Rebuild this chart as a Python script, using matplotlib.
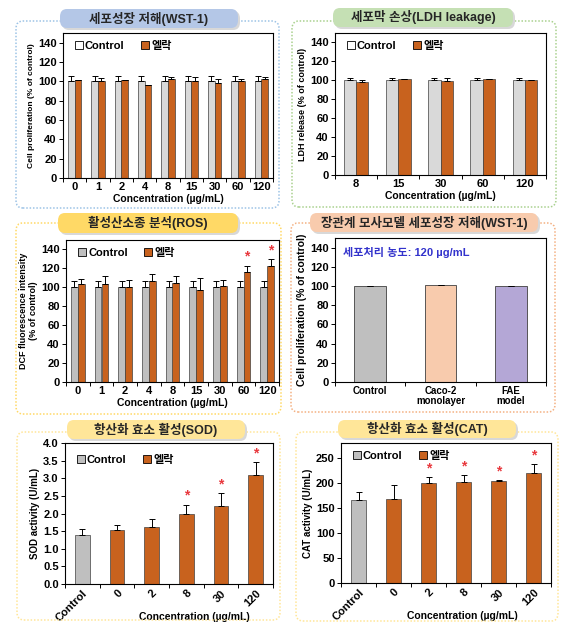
import numpy as np
import matplotlib
matplotlib.use("Agg")
import matplotlib.pyplot as plt
from matplotlib.patches import FancyBboxPatch, Patch

plt.rcParams['font.family'] = ['Liberation Sans', 'Noto Sans CJK KR', 'DejaVu Sans']
plt.rcParams['font.weight'] = 'bold'

# ---- data ----
wst_conc = ["0", "1", "2", "4", "8", "15", "30", "60", "120"]
wst_ctrl = [100, 100, 100, 100, 100, 100, 100, 100, 100]
wst_ctrl_err = [5, 5, 5, 5, 5, 5, 5, 5, 5]
wst_elrak = [101, 100, 101, 96, 102, 100, 98, 100, 102]
wst_elrak_err = [0.5, 3, 0.5, 0.5, 2, 4, 4, 2, 2]

ldh_conc = ["8", "15", "30", "60", "120"]
ldh_ctrl = [100, 100, 100, 100, 100]
ldh_ctrl_err = [2, 2, 2, 2, 2]
ldh_elrak = [98, 101, 99, 101, 100]
ldh_elrak_err = [2, 0.5, 3, 0.5, 0.5]

ros_conc = ["0", "1", "2", "4", "8", "15", "30", "60", "120"]
ros_ctrl = [100, 100, 100, 100, 100, 100, 100, 100, 100]
ros_ctrl_err = [7, 7, 7, 7, 7, 7, 7, 7, 7]
ros_elrak = [104, 103, 100, 107, 105, 97, 101, 116, 123]
ros_elrak_err = [5, 9, 8, 7, 7, 13, 7, 7, 7]
ros_sig = [False, False, False, False, False, False, False, True, True]

gut_labels = ["Control", "Caco-2\nmonolayer", "FAE\nmodel"]
gut_vals = [100, 101, 100]
gut_err = [0.5, 0, 0.5]

sod_labels = ["Control", "0", "2", "8", "30", "120"]
sod_vals = [1.38, 1.52, 1.62, 2.0, 2.22, 3.1]
sod_err = [0.18, 0.15, 0.22, 0.25, 0.35, 0.35]
sod_sig = [False, False, False, True, True, True]

cat_labels = ["Control", "0", "2", "8", "30", "120"]
cat_vals = [167, 169, 201, 203, 205, 220]
cat_err = [15, 27, 12, 13, 1, 19]
cat_sig = [False, False, True, True, True, True]

ORANGE = '#C8621E'
LGRAY = '#D9D9D9'
MGRAY = '#BFBFBF'
W, H = 573, 632

fig = plt.figure(figsize=(W / 100, H / 100), dpi=100)


def px_axes(l, t, r, b):
    return fig.add_axes([l / W, 1 - b / H, (r - l) / W, (b - t) / H])


def box(l, t, r, b, color):
    p = FancyBboxPatch((l / W, 1 - b / H), (r - l) / W, (b - t) / H,
                       boxstyle="round,pad=0,rounding_size=0.012", transform=fig.transFigure,
                       fill=False, edgecolor=color, linestyle=(0, (1, 1.2)), lw=1.1)
    fig.patches.append(p)


def badge(l, t, r, b, color, text, size=9):
    sh = FancyBboxPatch(((l + 2) / W, 1 - (b + 2) / H), (r - l) / W, (b - t) / H,
                        boxstyle="round,pad=0,rounding_size=0.012", transform=fig.transFigure,
                        facecolor='#D8D8D8', edgecolor='none')
    fig.patches.append(sh)
    p = FancyBboxPatch((l / W, 1 - b / H), (r - l) / W, (b - t) / H,
                       boxstyle="round,pad=0,rounding_size=0.012", transform=fig.transFigure,
                       facecolor=color, edgecolor='none')
    fig.patches.append(p)
    fig.text((l + r) / 2 / W, 1 - (t + b) / 2 / H, text, ha='center', va='center',
             fontsize=size, fontweight='bold', color='#262626')


def style_axes(ax, n, ymax, yticks, labels, rot=0, ylab="", ylsize=6.5):
    ax.set_xlim(-0.5, n - 0.5)
    ax.set_ylim(0, ymax)
    ax.set_yticks(yticks)
    ax.tick_params(axis='y', direction='out', length=3, width=0.7, labelsize=8, pad=1.5)
    ax.set_xticks(np.arange(n))
    ax.set_xticks(np.arange(n + 1) - 0.5, minor=True)
    ax.tick_params(axis='x', which='major', length=0, labelsize=8, pad=3)
    ax.tick_params(axis='x', which='minor', direction='out', length=3, width=0.7)
    if rot:
        ax.set_xticklabels(labels, rotation=rot, ha='right', rotation_mode='anchor')
    else:
        ax.set_xticklabels(labels)
    for s in ax.spines.values():
        s.set_linewidth(0.8)
    for lab in ax.get_yticklabels() + ax.get_xticklabels():
        lab.set_fontweight('bold')
    ax.set_ylabel(ylab, fontsize=ylsize, fontweight='bold', labelpad=2)


def legend(ax, ccol, x=0.02, y=1.0):
    hs = [Patch(facecolor=ccol, edgecolor='black', lw=0.6),
          Patch(facecolor=ORANGE, edgecolor='black', lw=0.6)]
    ax.legend(hs, ["Control", "엘락"], loc='upper left', bbox_to_anchor=(x, y), frameon=False,
              ncol=2, fontsize=8, handlelength=0.7, handleheight=0.7, handletextpad=0.2,
              columnspacing=1.5, borderaxespad=0.3)


def grouped(ax, ctrl, cerr, elr, eerr, ccol, sig=None, star_off=4):
    x = np.arange(len(ctrl))
    w = 0.29
    ek = dict(ecolor='black', elinewidth=0.7, capsize=2.5, capthick=0.7)
    ax.bar(x - w / 2, ctrl, w, color=ccol, edgecolor='#404040', lw=0.5,
           yerr=[np.zeros(len(ctrl)), cerr], error_kw=ek)
    ax.bar(x + w / 2, elr, w, color=ORANGE, edgecolor='#404040', lw=0.5,
           yerr=[np.zeros(len(elr)), eerr], error_kw=ek)
    if sig is not None:
        for i, s in enumerate(sig):
            if s:
                ax.text(x[i] + w / 2, elr[i] + eerr[i] + star_off, "*", color='#E8383D',
                        ha='center', va='bottom', fontsize=10)


# ---- panel 1: WST-1 ----
box(16, 21, 279, 208, '#9DC3E6')
ax1 = px_axes(63, 33, 273, 178)
grouped(ax1, wst_ctrl, wst_ctrl_err, wst_elrak, wst_elrak_err, LGRAY)
style_axes(ax1, 9, 150, range(0, 141, 20), wst_conc, ylab="Cell proliferation (% of control)", ylsize=6)
ax1.set_xlabel("Concentration (µg/mL)", fontsize=7.5, fontweight='bold', labelpad=1)
legend(ax1, 'white')
badge(60, 9, 238, 28, '#B4C7E7', "세포성장 저해(WST-1)")

# ---- panel 2: LDH ----
box(292, 21, 556, 207, '#A9D18E')
ax2 = px_axes(335, 33, 546, 175)
grouped(ax2, ldh_ctrl, ldh_ctrl_err, ldh_elrak, ldh_elrak_err, LGRAY)
style_axes(ax2, 5, 150, range(0, 141, 20), ldh_conc, ylab="LDH release (% of control)", ylsize=6.5)
ax2.set_xlabel("Concentration (µg/mL)", fontsize=7.5, fontweight='bold', labelpad=1)
legend(ax2, 'white')
badge(333, 8, 513, 27, '#C5E0B4', "세포막 손상(LDH leakage)")

# ---- panel 3: ROS ----
box(16, 223, 281, 414, '#FFD966')
ax3 = px_axes(66, 240, 279, 382)
grouped(ax3, ros_ctrl, ros_ctrl_err, ros_elrak, ros_elrak_err, MGRAY, sig=ros_sig, star_off=2)
style_axes(ax3, 9, 150, range(0, 141, 20), ros_conc,
           ylab="DCF fluorescence intensity\n(% of control)", ylsize=6.5)
ax3.set_xlabel("Concentration (µg/mL)", fontsize=7.5, fontweight='bold', labelpad=1)
legend(ax3, MGRAY)
badge(58, 213, 238, 233, '#FFD966', "활성산소종 분석(ROS)")

# ---- panel 4: gut model ----
box(291, 223, 555, 412, '#F4B183')
ax4 = px_axes(335, 238, 546, 382)
gx = np.arange(3)
ax4.bar(gx, gut_vals, 0.45, color=[MGRAY, '#F8CBAD', '#B4A7D6'], edgecolor='#404040', lw=0.6,
        yerr=[np.zeros(3), gut_err], error_kw=dict(ecolor='black', elinewidth=0.7, capsize=2.5, capthick=0.7))
style_axes(ax4, 3, 150, range(0, 141, 20), gut_labels, ylab="Cell proliferation (% of control)", ylsize=7.5)
for lab in ax4.get_xticklabels():
    lab.set_fontsize(7)
    lab.set_linespacing(1.0)
ax4.text(0.04, 0.9, "세포처리 농도: 120 µg/mL", transform=ax4.transAxes, color='#3333CC',
         fontsize=8, fontweight='bold', va='center')
badge(310, 213, 538, 232, '#F8CBAD', "장관계 모사모델 세포성장 저해(WST-1)")

# ---- panel 5: SOD ----
box(17, 432, 280, 620, '#FFE699')
ax5 = px_axes(65, 443, 273, 584)
sx = np.arange(len(sod_vals))
ek = dict(ecolor='black', elinewidth=0.7, capsize=2.5, capthick=0.7)
ax5.bar(sx, sod_vals, 0.43, color=[MGRAY] + [ORANGE] * 5, edgecolor='#404040', lw=0.5,
        yerr=[np.zeros(len(sod_vals)), sod_err], error_kw=ek)
for i, s in enumerate(sod_sig):
    if s:
        ax5.text(sx[i], sod_vals[i] + sod_err[i] + 0.05, "*", color='#E8383D', ha='center',
                 va='bottom', fontsize=10)
style_axes(ax5, 6, 4.0, np.arange(0, 4.01, 0.5), sod_labels, rot=45, ylab="SOD activity (U/mL)", ylsize=7)
ax5.set_yticklabels(["%.1f" % v for v in np.arange(0, 4.01, 0.5)])
for lab in ax5.get_yticklabels():
    lab.set_fontweight('bold')
ax5.set_xlabel("Concentration (µg/mL)", fontsize=7.5, fontweight='bold', labelpad=-8, x=0.62)
legend(ax5, MGRAY, y=0.97)
badge(67, 420, 245, 439, '#FFE699', "항산화 효소 활성(SOD)")

# ---- panel 6: CAT ----
box(296, 432, 558, 621, '#FFE699')
ax6 = px_axes(341, 443, 551, 583)
cx = np.arange(len(cat_vals))
ax6.bar(cx, cat_vals, 0.43, color=[MGRAY] + [ORANGE] * 5, edgecolor='#404040', lw=0.5,
        yerr=[np.zeros(len(cat_vals)), cat_err], error_kw=ek)
for i, s in enumerate(cat_sig):
    if s:
        ax6.text(cx[i], cat_vals[i] + cat_err[i] + 3, "*", color='#E8383D', ha='center',
                 va='bottom', fontsize=10)
style_axes(ax6, 6, 280, range(0, 251, 50), cat_labels, rot=45, ylab="CAT activity (U/mL)", ylsize=7)
ax6.set_xlabel("Concentration (µg/mL)", fontsize=7.5, fontweight='bold', labelpad=-8, x=0.58)
legend(ax6, MGRAY)
badge(338, 420, 516, 438, '#FFE699', "항산화 효소 활성(CAT)")

fig.savefig("out.png", dpi=100)
